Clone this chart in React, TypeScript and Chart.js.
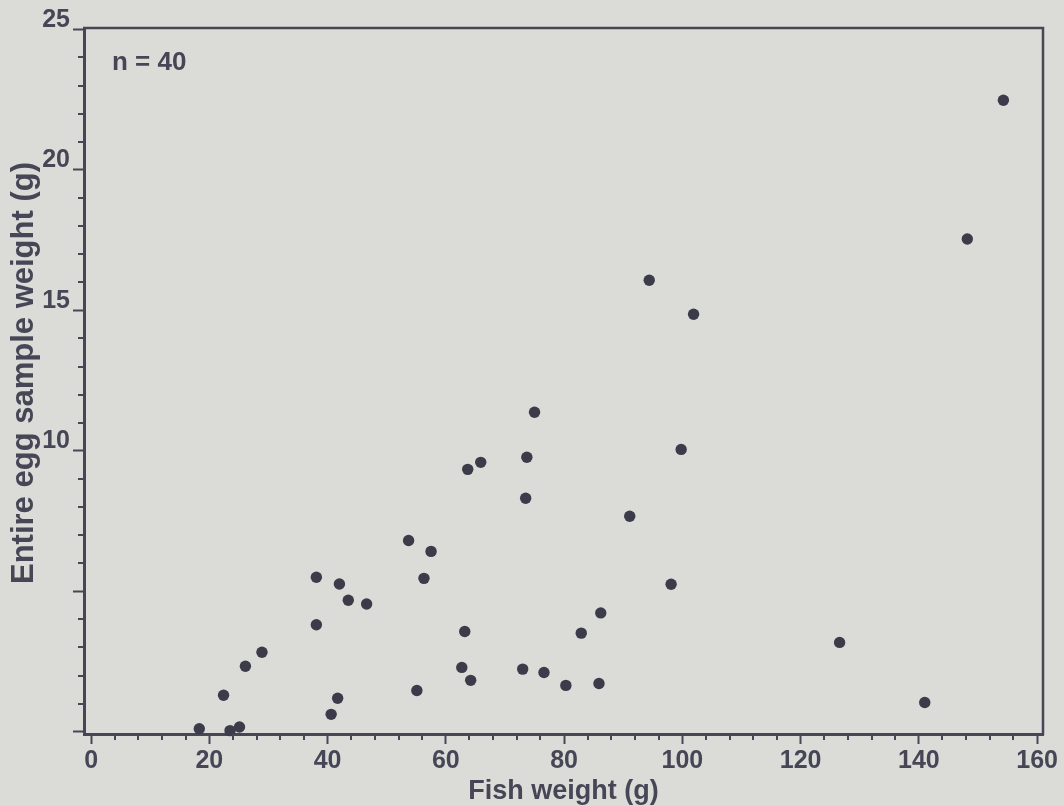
import React, { useEffect, useRef } from 'react';
import { Chart, registerables } from 'chart.js';

Chart.register(...registerables);

// Fish weight (g) for each of the 40 fish
const fishWeight = [
  18.3, 22.4, 23.5, 25.1, 26.1, 28.9, 38.1, 38.1, 40.6, 41.7,
  42.0, 43.5, 46.6, 53.7, 55.1, 56.3, 57.5, 62.7, 63.2, 63.7,
  64.2, 65.9, 73.0, 73.5, 73.7, 75.0, 76.6, 80.3, 82.9, 85.9,
  86.2, 91.1, 94.4, 98.1, 99.8, 101.9, 126.6, 141.0, 148.2, 154.3,
];
// Entire egg sample weight (g)
const eggWeight = [
  0.11, 1.30, 0.04, 0.17, 2.33, 2.83, 3.81, 5.50, 0.62, 1.19,
  5.26, 4.68, 4.55, 6.81, 1.47, 5.46, 6.42, 2.29, 3.57, 9.34,
  1.83, 9.59, 2.23, 8.31, 9.77, 11.37, 2.11, 1.65, 3.51, 1.72,
  4.23, 7.67, 16.07, 5.25, 10.05, 14.86, 3.18, 1.04, 17.54, 22.48,
];

const xTickValues = [
  0, 4, 8, 12, 16, 20, 24, 28, 32, 36, 40, 44, 48, 52, 56, 60, 64, 68, 72, 76, 80,
  84, 88, 92, 96, 100, 104, 108, 112, 116, 120, 124, 128, 132, 136, 140, 144, 148,
  152, 156, 160,
];
const yTickValues = [
  0, 1, 2, 3, 4, 5, 6, 7, 8, 9, 10, 11, 12, 13, 14, 15, 16, 17, 18, 19, 20, 21, 22,
  23, 24, 25,
];
const xLabelValues = [0, 20, 40, 60, 80, 100, 120, 140, 160];
const yMajorValues = [0, 5, 10, 15, 20, 25];
const yLabelValues = [10, 15, 20, 25];

const xTitle = 'Fish weight (g)';
const yTitle = 'Entire egg sample weight (g)';
const sampleNote = 'n = 40';

const BG = '#dbdcd7';
const INK = '#474656';
const DOT = '#3c3b4a';
const FONT = '"Liberation Sans", Arial, sans-serif';

const framePlugin = {
  id: 'frame',
  beforeDraw(chart: any) {
    const { ctx, width, height } = chart;
    ctx.save();
    ctx.fillStyle = BG;
    ctx.fillRect(0, 0, width, height);
    ctx.restore();
  },
  afterDraw(chart: any) {
    const { ctx, chartArea } = chart;
    const { left, right, top, bottom } = chartArea;
    const xs = chart.scales.x;
    const ys = chart.scales.y;
    ctx.save();
    ctx.strokeStyle = INK;
    ctx.lineWidth = 2.5;
    ctx.beginPath();
    ctx.moveTo(left - 1, top);
    ctx.lineTo(right, top);
    ctx.lineTo(right, bottom + 1);
    ctx.stroke();

    // minor ticks
    ctx.lineWidth = 2;
    ctx.beginPath();
    xTickValues.forEach((v) => {
      if (!xLabelValues.includes(v)) {
        const px = Math.round(xs.getPixelForValue(v));
        ctx.moveTo(px, bottom);
        ctx.lineTo(px, bottom + 6);
      }
    });
    yTickValues.forEach((v) => {
      if (!yMajorValues.includes(v)) {
        const py = Math.round(ys.getPixelForValue(v));
        ctx.moveTo(left, py);
        ctx.lineTo(left - 6, py);
      }
    });
    ctx.stroke();

    // sample size note
    ctx.fillStyle = INK;
    ctx.font = `bold 26px ${FONT}`;
    ctx.textAlign = 'left';
    ctx.textBaseline = 'alphabetic';
    ctx.fillText(sampleNote, left + 28, top + 42);

    // y axis title
    ctx.font = `bold 31px ${FONT}`;
    ctx.textAlign = 'center';
    ctx.textBaseline = 'middle';
    ctx.translate(24, (top + bottom) / 2 - 8);
    ctx.rotate(-Math.PI / 2);
    ctx.fillText(yTitle, 0, 0);
    ctx.restore();
  },
};

export default function App() {
  const canvasRef = useRef<HTMLCanvasElement | null>(null);

  useEffect(() => {
    const canvas = canvasRef.current;
    if (!canvas) return;
    const points = fishWeight.map((x, i) => ({ x, y: eggWeight[i] }));
    const chart = new Chart(canvas, {
      type: 'scatter',
      data: {
        datasets: [
          {
            data: points,
            backgroundColor: DOT,
            borderColor: DOT,
            borderWidth: 0,
            pointRadius: 5.7,
            pointHoverRadius: 5.7,
            clip: false as any,
          },
        ],
      },
      plugins: [framePlugin],
      options: {
        responsive: false,
        animation: false,
        events: [],
        layout: { padding: { top: 28, right: 21, left: 0, bottom: 0 } },
        plugins: {
          legend: { display: false },
          tooltip: { enabled: false },
        },
        scales: {
          x: {
            type: 'linear',
            min: -1.2,
            max: 161,
            z: 1,
            afterBuildTicks: (scale: any) => {
              scale.ticks = xTickValues.map((value) => ({ value }));
            },
            afterFit: (scale: any) => {
              scale.height = 72;
            },
            border: { display: true, color: INK, width: 3 },
            grid: {
              drawOnChartArea: false,
              drawTicks: true,
              tickLength: 10,
              tickWidth: 2,
              tickColor: (ctx: any) =>
                ctx.tick && xLabelValues.includes(ctx.tick.value) ? INK : 'rgba(0,0,0,0)',
            },
            ticks: {
              autoSkip: false,
              maxRotation: 0,
              padding: 2,
              color: INK,
              font: { family: FONT, size: 25, weight: 'bold' },
              callback: (v: any) => (xLabelValues.includes(Number(v)) ? String(v) : ''),
            },
            title: {
              display: true,
              text: xTitle,
              color: INK,
              font: { family: FONT, size: 27, weight: 'bold', lineHeight: 1 },
              padding: { top: 0, bottom: 1 },
            },
          },
          y: {
            type: 'linear',
            min: -0.08,
            max: 25.05,
            z: 1,
            afterBuildTicks: (scale: any) => {
              scale.ticks = yTickValues.map((value) => ({ value }));
            },
            afterFit: (scale: any) => {
              scale.width = 84;
            },
            border: { display: true, color: INK, width: 3 },
            grid: {
              drawOnChartArea: false,
              drawTicks: true,
              tickLength: 11,
              tickWidth: 2,
              tickColor: (ctx: any) =>
                ctx.tick && yMajorValues.includes(ctx.tick.value) ? INK : 'rgba(0,0,0,0)',
            },
            ticks: {
              autoSkip: false,
              padding: 3,
              labelOffset: -9.5,
              color: INK,
              font: { family: FONT, size: 25, weight: 'bold' },
              callback: (v: any) => (yLabelValues.includes(Number(v)) ? String(v) : ''),
            },
            title: { display: false },
          },
        },
      } as any,
    });
    return () => chart.destroy();
  }, []);

  return (
    <div
      style={{
        position: 'absolute',
        left: 0,
        top: 0,
        width: 1064,
        height: 806,
        background: BG,
      }}
    >
      <canvas ref={canvasRef} width={1064} height={806} style={{ display: 'block' }} />
    </div>
  );
}
